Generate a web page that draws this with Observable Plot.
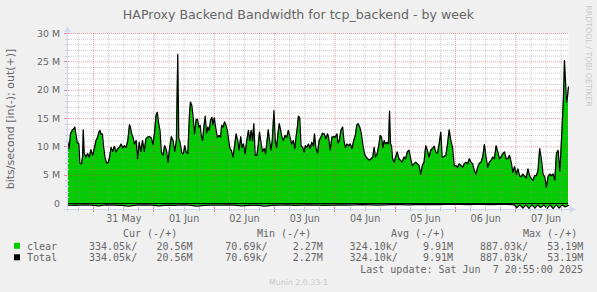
<!DOCTYPE html>
<html><head><meta charset="utf-8">
<script src="https://cdn.jsdelivr.net/npm/d3@7"></script>
<script src="https://cdn.jsdelivr.net/npm/@observablehq/plot@0.6"></script>
<style>
html,body{margin:0;padding:0;background:#F0F0F0;}
#chart{position:relative;width:597px;height:292px;background:#F0F0F0;overflow:hidden;}
#chart svg{display:block;}
</style></head><body><div id="chart"></div>
<script>
// hours relative to 31 May 2025 00:00 ; values in Mbit/s
const outHours = [-10.4,-9.73,-9.2,-8.53,-7.87,-7.47,-7.07,-6.53,-5.87,-5.47,-4.8,-4.4,-4.13,-3.73,-3.07,-2.4,-1.73,-1.07,-0.4,0.27,0.93,1.6,2.13,2.53,2.93,3.47,4.0,4.53,5.2,5.87,6.4,6.93,7.6,8.27,8.93,9.6,10.27,10.93,11.6,12.27,12.93,13.6,14.27,14.67,15.2,15.73,16.27,16.93,17.47,18.13,18.8,19.47,20.13,20.8,21.47,22.27,22.93,23.6,24.27,24.8,25.33,25.87,26.4,26.93,27.6,28.27,28.93,29.6,30.27,30.93,31.6,32.27,32.93,33.47,33.87,34.4,35.07,35.73,36.27,
36.8,37.47,38.13,38.53,39.07,39.6,40.13,40.8,41.33,41.87,42.4,42.8,43.33,43.87,44.4,44.93,45.47,46.0,46.53,47.07,47.47,48.0,48.53,49.2,49.87,50.53,50.93,51.47,52.13,52.67,53.2,53.73,54.27,54.8,55.47,56.0,56.67,57.33,57.87,58.53,59.07,59.6,60.27,60.93,61.6,62.13,62.67,63.2,63.73,64.27,64.93,65.47,66.0,66.67,67.2,67.87,68.4,68.93,69.47,70.0,70.53,71.07,71.73,72.27,72.8,73.33,73.87,74.4,74.93,75.47,76.13,76.8,77.47,78.13,78.8,79.47,80.0,80.53,81.07,81.47,82.0,82.53,83.2,83.73,84.27,84.8,85.47,86.13,86.8,
87.47,87.87,88.4,89.07,89.73,90.4,91.07,91.73,92.4,93.07,93.47,94.13,94.8,95.47,96.13,96.8,97.2,97.73,98.4,99.07,99.6,100.13,100.8,101.47,102.13,102.8,103.47,104.13,104.67,105.2,105.87,106.53,107.07,107.73,108.4,109.07,109.73,110.4,111.07,111.6,112.13,112.8,113.47,114.0,114.53,115.07,115.6,116.13,116.8,117.33,117.73,118.13,118.53,118.93,119.6,120.13,120.8,121.47,122.13,122.8,123.47,124.13,124.8,125.47,126.13,126.8,127.47,128.13,128.8,129.47,130.13,130.8,131.47,132.13,132.8,133.47,134.13,134.8,135.47,136.13,136.8,137.47,
138.13,138.67,139.47,140.13,140.8,141.47,142.13,142.8,143.47,144.13,144.8,145.47,146.13,146.8,147.47,148.13,148.8,149.47,150.13,150.8,151.47,152.13,152.8,153.47,154.13,154.8,155.47,156.13,156.8,157.47,158.13,158.8,159.47,160.13,160.8,161.47,162.13,162.8,163.47,164.13,164.8,165.47,166.13,166.8,167.47,168.13,168.8,169.47,170.13,170.8,171.47,172.13,172.8,173.47,174.13,174.8,175.47,176.13,176.8,177.47,178.13,178.8,179.47,180.13,180.8,181.47,182.13,182.8,183.47,184.13,184.8,185.47,185.87,186.4,186.93,187.33,187.73,188.13,188.53,188.93];
const outMbits = [11.1,9.7,12.3,12.9,13.2,13.5,12.3,10.8,10.5,7.1,7.0,8.2,13.0,8.8,8.2,8.8,8.2,9.5,8.5,9.7,11.1,11.7,12.6,12.9,12.2,12.3,9.9,8.1,7.1,7.3,8.3,9.9,9.2,10.1,9.1,9.7,9.9,10.5,9.8,10.2,9.9,11.1,13.9,13.4,12.2,11.6,10.5,11.1,7.9,10.8,9.2,11.1,9.2,11.4,11.7,11.8,11.6,10.4,12.6,15.5,16.1,14.1,12.9,9.1,8.5,10.2,9.5,7.3,9.9,11.8,11.1,9.2,11.1,26.3,11.5,10.8,8.9,8.8,10.2,
9.1,8.8,15.8,17.9,17.3,15.2,12.3,14.8,14.9,13.5,13.8,12.0,11.1,13.5,15.4,12.4,13.5,12.9,14.7,15.2,13.9,15.1,13.5,11.7,12.0,11.7,13.8,13.5,14.4,13.8,12.9,11.1,9.7,9.4,8.2,9.9,12.3,11.1,9.4,11.8,9.9,10.5,8.8,11.1,12.9,11.1,12.9,11.1,14.1,8.5,8.5,10.2,12.6,10.5,9.2,9.7,8.8,10.8,13.0,11.1,9.4,11.1,16.4,11.1,9.9,12.3,14.1,12.9,11.7,11.1,12.0,11.7,12.9,11.7,10.5,11.1,9.7,11.7,13.5,15.4,15.1,10.2,9.9,9.1,10.2,9.9,10.5,9.7,10.8,
10.2,12.3,9.9,8.9,11.1,11.7,12.4,12.3,11.4,12.3,11.7,9.4,11.7,11.8,11.7,12.3,10.7,11.1,12.9,13.5,11.1,9.9,10.5,10.2,10.5,9.7,11.1,12.0,13.8,14.1,13.5,12.3,10.5,8.8,8.2,7.9,7.6,7.9,8.2,9.9,8.2,8.8,10.2,12.0,11.7,9.9,11.1,10.5,10.8,10.5,16.3,10.5,10.2,7.9,7.3,8.2,9.1,7.9,7.6,7.3,8.2,7.9,9.1,9.4,7.9,6.7,7.0,7.3,7.0,6.7,5.2,6.7,7.3,10.2,9.4,8.2,9.4,9.7,10.1,9.1,8.9,10.5,
12.6,8.2,8.3,8.5,10.5,13.0,11.1,9.9,6.7,6.7,6.4,7.0,6.7,6.4,7.0,7.3,7.0,7.9,7.3,7.0,5.8,5.2,6.4,7.1,7.3,8.2,10.4,8.2,6.4,7.3,7.6,8.2,7.9,10.2,9.1,7.9,8.2,8.8,9.1,7.9,7.9,8.5,7.3,5.5,6.5,5.2,6.1,4.9,4.7,5.2,4.8,4.5,6.1,4.9,4.4,4.1,4.9,4.9,5.8,9.7,7.9,5.2,4.7,2.9,4.7,5.2,4.9,5.2,4.1,8.8,9.4,5.7,8.8,13.5,18.8,25.2,21.7,17.9,18.8,20.6];
const inHours = [-10.4,-7,-4,-1,2,5,8,11,14,17,20,23,26,29,32,35,38,41,44,47,50,53,56,59,62,65,68,71,74,77,80,83,86,89,92,95,98,101,104,107,110,113,116,119,122,125,128,131,134,137,140,143,146,149,152,155,158,161,164,166.5,167.4,168.3,169.5,170.8,172,173.2,174.4,175.6,176.7,177.8,179.1,180.4,181.6,182.8,184,185.2,186.4,187.6,188.93];
const inMbits = [0.3,0.35,0.25,0.3,0.4,0.25,0.3,0.35,0.45,0.3,0.25,0.3,0.4,0.3,0.35,0.25,0.3,0.45,0.35,0.3,0.3,0.25,0.3,0.4,0.35,0.3,0.45,0.35,0.3,0.25,0.35,0.3,0.25,0.3,0.35,0.3,0.25,0.3,0.25,0.2,0.25,0.3,0.25,0.2,0.2,0.25,0.2,0.2,0.15,0.2,0.15,0.15,0.15,0.2,0.15,0.15,0.2,0.15,0.15,0.2,0.25,0.75,0.25,0.8,0.25,0.85,0.25,0.8,0.25,0.7,0.25,0.85,0.25,0.89,0.25,0.8,0.25,0.6,0.33];

const dayLabels = ["31 May","01 Jun","02 Jun","03 Jun","04 Jun","05 Jun","06 Jun","07 Jun"];
const yTickValues = [0,5,10,15,20,25,30];
const yTickLabels = ["0","5 M","10 M","15 M","20 M","25 M","30 M"];
const legendHeaders = ["Cur (-/+)","Min (-/+)","Avg (-/+)","Max (-/+)"];
const seriesNames = ["clear","Total"];
const seriesColors = ["#00CC00","#000000"];
const clearIn = ["334.05k/"," 70.69k/","324.10k/","887.03k/"];
const clearOut = ["20.56M","2.27M","9.91M","53.19M"];
const totalIn = ["334.05k/"," 70.69k/","324.10k/","887.03k/"];
const totalOut = ["20.56M","2.27M","9.91M","53.19M"];
const titleText = "HAProxy Backend Bandwidth for tcp_backend - by week";
const yAxisTitle = "bits/second [in(-); out(+)]";
const lastUpdate = "Last update: Sat Jun  7 20:55:00 2025";
const muninTag = "Munin 2.0.33-1";
const rrdTag = "RRDTOOL / TOBI OETIKER";

const xDomain = [-10.4, 188.93];
const yMin = -6 * 30 / 170;

const outData = outHours.map((h, i) => ({h, v: outMbits[i]}));
const inData = inHours.map((h, i) => ({h, v: -inMbits[i]}));
const minorX = d3.range(-6, 189, 6).filter(h => h % 24 !== 0);
const majorX = d3.range(0, 189, 24);
const minorY = d3.range(1, 30, 1).filter(v => v % 5 !== 0);
const majorY = yTickValues.filter(v => v > 0);
const noonData = dayLabels.map((label, i) => ({h: i * 24 + 12, label}));
const yTickData = yTickValues.map((v, i) => ({v, label: yTickLabels[i]}));

const gridMinor = {stroke: "rgb(143,143,143)", strokeOpacity: 0.45, strokeDasharray: "1,1"};
const gridMajor = {stroke: "rgb(222,79,79)", strokeOpacity: 0.55, strokeDasharray: "1,1"};

const chart = Plot.plot({
  width: 597, height: 292,
  marginLeft: 67, marginRight: 29, marginTop: 33, marginBottom: 83,
  style: {background: "transparent", fontFamily: "DejaVu Sans", color: "#666"},
  x: {domain: xDomain, axis: null},
  y: {domain: [yMin, 30], axis: null},
  marks: [
    Plot.frame({fill: "#FFFFFF", stroke: null}),
    Plot.areaY(outData, {x: "h", y: "v", fill: "#00CC00"}),
    Plot.areaY(inData, {x: "h", y: "v", fill: "#00CC00"}),
    Plot.ruleY(minorY, gridMinor),
    Plot.ruleX(minorX, gridMinor),
    Plot.ruleY(majorY, gridMajor),
    Plot.ruleX(majorX, gridMajor),
    Plot.ruleY([0], {stroke: "#000", strokeWidth: 1}),
    Plot.line(outData, {x: "h", y: "v", stroke: "#000", strokeWidth: 1.25}),
    Plot.line(inData, {x: "h", y: "v", stroke: "#000", strokeWidth: 1.25}),
    Plot.text(noonData, {x: "h", text: "label", frameAnchor: "bottom", dy: 12, fontSize: 9.6, fill: "#666", fontFamily: "DejaVu Sans"}),
    Plot.text(yTickData, {y: "v", text: "label", frameAnchor: "left", textAnchor: "end", dx: -7.5, fontSize: 9.4, fill: "#666", fontFamily: "DejaVu Sans"})
  ]
});
document.getElementById("chart").appendChild(chart);

const svg = d3.select(chart);
const xs = chart.scale("x"), ys = chart.scale("y");
const L = Math.round(xs.apply(xDomain[0])), R = Math.round(xs.apply(xDomain[1]));
const B = Math.round(ys.apply(yMin)), T = Math.round(ys.apply(30));
const axisColor = "#CFD6F8";
const ax = svg.append("g");
minorX.forEach(h => { const x = Math.round(xs.apply(h)) + 0.5;
  ax.append("line").attr("x1", x).attr("x2", x).attr("y1", B - 2).attr("y2", B + 2).attr("stroke", "#bbb"); });
majorX.forEach(h => { const x = Math.round(xs.apply(h)) + 0.5;
  ax.append("line").attr("x1", x).attr("x2", x).attr("y1", B - 2).attr("y2", B + 3).attr("stroke", "rgba(222,79,79,0.7)"); });
minorY.forEach(v => { const y = Math.round(ys.apply(v)) + 0.5;
  ax.append("line").attr("x1", L - 2).attr("x2", L + 2).attr("y1", y).attr("y2", y).attr("stroke", "#ccc"); });
majorY.forEach(v => { const y = Math.round(ys.apply(v)) + 0.5;
  ax.append("line").attr("x1", L - 3).attr("x2", L + 2).attr("y1", y).attr("y2", y).attr("stroke", "rgba(222,79,79,0.6)"); });
ax.append("line").attr("x1", L - 3).attr("x2", R + 3).attr("y1", B + 0.5).attr("y2", B + 0.5).attr("stroke", axisColor);
ax.append("line").attr("x1", L + 0.5).attr("x2", L + 0.5).attr("y1", B + 3).attr("y2", T - 3).attr("stroke", axisColor);
ax.append("path").attr("d", `M${R + 8},${B + 0.5} L${R + 2},${B - 2.5} L${R + 2},${B + 3.5} Z`).attr("fill", axisColor);
ax.append("path").attr("d", `M${L + 0.5},${T - 7} L${L - 2.5},${T - 1} L${L + 3.5},${T - 1} Z`).attr("fill", axisColor);

svg.append("text").attr("x", 298.5).attr("y", 18.5).attr("text-anchor", "middle")
  .attr("font-family", "DejaVu Sans").attr("font-size", 12.6).attr("fill", "#666").text(titleText);
svg.append("text").attr("transform", "translate(13.5,119) rotate(-90)").attr("text-anchor", "middle")
  .attr("font-family", "DejaVu Sans").attr("font-size", 11).attr("fill", "#666").text(yAxisTitle);
svg.append("text").attr("transform", "translate(586,56) rotate(90)").attr("text-anchor", "middle")
  .attr("font-family", "DejaVu Sans").attr("font-size", 7.9).attr("fill", "#C8C8C8").text(rrdTag);
svg.append("text").attr("x", 298.5).attr("y", 285).attr("text-anchor", "middle")
  .attr("font-family", "DejaVu Sans").attr("font-size", 7.8).attr("fill", "#C8C8C8").text(muninTag);

const lg = svg.append("g").attr("font-family", "DejaVu Sans Mono").attr("font-size", 10)
  .attr("fill", "#666").attr("text-anchor", "start").attr("xml:space", "preserve").style("white-space", "pre");
const headerX = [123, 257, 391, 523];
legendHeaders.forEach((t, i) => lg.append("text").attr("text-anchor", "start").attr("x", headerX[i]).attr("y", 236.8).text(t));
const rowsIn = [clearIn, totalIn], rowsOut = [clearOut, totalOut];
seriesNames.forEach((name, r) => {
  const yb = 249.6 + r * 11.5;
  lg.append("rect").attr("x", 14).attr("y", yb - 6.8).attr("width", 6).attr("height", 6).attr("fill", seriesColors[r]);
  lg.append("text").attr("text-anchor", "start").attr("x", 27).attr("y", yb).text(name);
  rowsIn[r].forEach((t, i) => lg.append("text").attr("text-anchor", "start").attr("x", 89 + 130.3 * i).attr("y", yb).text(t));
  rowsOut[r].forEach((t, i) => lg.append("text").attr("x", 192.5 + 130.3 * i).attr("y", yb).attr("text-anchor", "end").text(t));
});
lg.append("text").attr("x", 583).attr("y", 272.6).attr("text-anchor", "end").text(lastUpdate);
</script></body></html>
